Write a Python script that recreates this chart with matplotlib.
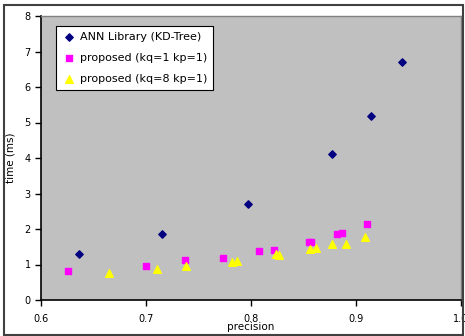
import matplotlib
matplotlib.use('Agg')
import matplotlib.pyplot as plt
from matplotlib.patches import Rectangle

# ANN Library (KD-Tree)
ann_precision = [0.636, 0.715, 0.797, 0.877, 0.914, 0.944]
ann_time = [1.29, 1.85, 2.70, 4.10, 5.19, 6.71]

# proposed (kq=1 kp=1)
kq1_precision = [0.626, 0.700, 0.737, 0.773, 0.808, 0.822, 0.855, 0.857, 0.882, 0.887, 0.910]
kq1_time = [0.83, 0.96, 1.12, 1.19, 1.38, 1.41, 1.62, 1.64, 1.86, 1.89, 2.13]

# proposed (kq=8 kp=1)
kq8_precision = [0.665, 0.710, 0.738, 0.782, 0.787, 0.824, 0.827, 0.856, 0.862, 0.877, 0.890, 0.909]
kq8_time = [0.76, 0.87, 0.96, 1.06, 1.11, 1.29, 1.26, 1.43, 1.46, 1.59, 1.59, 1.78]

x_ticks = [0.6, 0.7, 0.8, 0.9, 1.0]
y_ticks = [0, 1, 2, 3, 4, 5, 6, 7, 8]

plt.rcParams['font.family'] = ['DejaVu Sans']

fig = plt.figure(figsize=(4.65, 3.36), dpi=100)
fig.patch.set_facecolor('white')
ax = fig.add_axes([41 / 465, 36 / 336, 420 / 465, 284 / 336])
ax.set_facecolor('#C0C0C0')

ax.scatter(ann_precision, ann_time, marker='D', s=14, color='#000080',
           label='ANN Library (KD-Tree)', zorder=3)
ax.scatter(kq1_precision, kq1_time, marker='s', s=22, color='#FF00FF',
           label='proposed (kq=1 kp=1)', zorder=3)
ax.scatter(kq8_precision, kq8_time, marker='^', s=30, color='#FFFF00',
           label='proposed (kq=8 kp=1)', zorder=3)

ax.set_xlim(0.6, 1.0)
ax.set_ylim(0, 8)
ax.set_xticks(x_ticks)
ax.set_xticklabels(['0.6', '0.7', '0.8', '0.9', '1.0'])
ax.set_yticks(y_ticks)
ax.tick_params(axis='both', labelsize=7, direction='out', length=4, width=1, colors='black')
ax.tick_params(axis='x', pad=6)

for side in ('top', 'right'):
    ax.spines[side].set_color('#808080')
    ax.spines[side].set_linewidth(1)
for side in ('left', 'bottom'):
    ax.spines[side].set_color('black')
    ax.spines[side].set_linewidth(1.2)

ax.set_xlabel('precision', fontsize=7.5, labelpad=-1)
ax.set_ylabel('time (ms)', fontsize=7.5, labelpad=6)

leg = ax.legend(loc='upper left', bbox_to_anchor=(0.036, 0.965), fontsize=8,
                frameon=True, fancybox=False, edgecolor='black', facecolor='white',
                framealpha=1, handletextpad=0.3, borderpad=0.55, labelspacing=1.0,
                handlelength=1.3, borderaxespad=0)
leg.get_frame().set_linewidth(0.8)

fig.add_artist(Rectangle((4 / 465, 1 / 336), 459 / 465, 330 / 336,
                         transform=fig.transFigure, fill=False,
                         edgecolor='#404040', linewidth=1.5))

fig.savefig('out.png', dpi=100)
